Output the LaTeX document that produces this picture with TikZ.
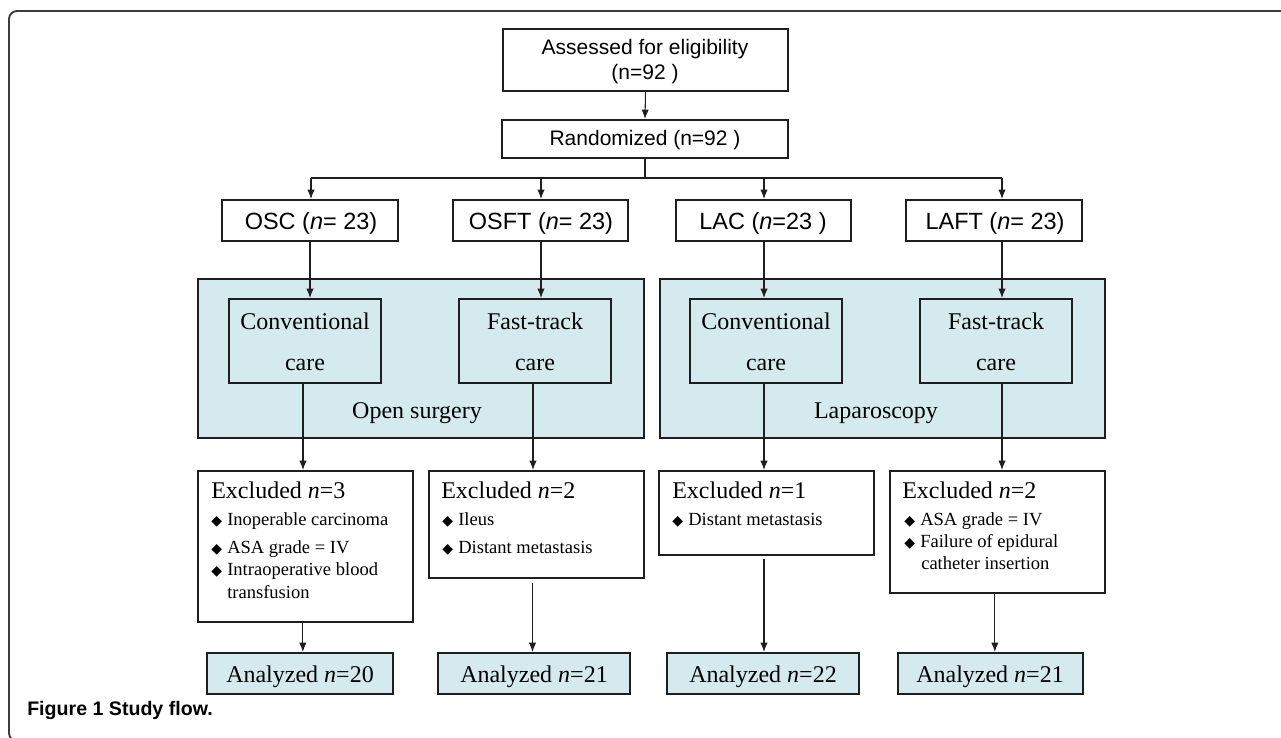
\documentclass[tikz,border=0pt]{standalone}
\usepackage{fontspec}
\setmainfont{Liberation Serif}
\setsansfont{Liberation Sans}
\newfontfamily\symf{DejaVu Sans}
\usetikzlibrary{arrows.meta,fit}
\definecolor{boxblue}{RGB}{212,234,238}
\definecolor{lineg}{RGB}{30,30,30}
\definecolor{frameg}{RGB}{60,60,60}
\newcommand{\dia}{\makebox[12pt][l]{\symf\fontsize{10.5}{10}\selectfont ◆}}
\begin{document}
\begin{tikzpicture}[x=0.75pt,y=-0.75pt,
  bx/.style={draw=lineg, line width=1.5pt, inner sep=0pt},
  fbx/.style={bx, fill=boxblue},
  arr/.style={draw=lineg, line width=0.8pt, -{Latex[length=7pt,width=5.5pt]}},
  ln/.style={draw=lineg, line width=0.8pt},
  txt/.style={inner sep=0pt, anchor=base},
  txtl/.style={inner sep=0pt, anchor=base west},
  sansA/.style={font=\sffamily\fontsize{15.75}{19}\selectfont},
  sansB/.style={font=\sffamily\fontsize{17.6}{21}\selectfont},
  ser/.style={font=\fontsize{18}{21}\selectfont},
  itm/.style={font=\fontsize{13.9}{16}\selectfont},
  capt/.style={font=\sffamily\bfseries\fontsize{14.7}{17}\selectfont}]
\useasboundingbox (0,0) rectangle (1281,738);
\clip (0,0) rectangle (1281,738);
% outer frame
\draw[frameg, line width=1.4pt, rounded corners=6pt] (1290,11) -- (9,11) -- (9,741) -- (40,741);

% boxes
\node[bx, fit={(503,29) (788,91)}] (assess) {};
\node[bx, fit={(502,120) (788,158)}] (rand) {};
\node[bx, fit={(222,200) (398,241)}] (osc) {};
\node[bx, fit={(453,200) (628,241)}] (osft) {};
\node[bx, fit={(676,200) (851,241)}] (lac) {};
\node[bx, fit={(906,200) (1082,241)}] (laft) {};
\node[fbx, fit={(198,279) (644,438)}] (grpO) {};
\node[fbx, fit={(660,279) (1105,438)}] (grpL) {};
\node[bx, fit={(229,299) (381,383)}] (conv1) {};
\node[bx, fit={(459,299) (611,383)}] (fast1) {};
\node[bx, fit={(690,299) (842,383)}] (conv2) {};
\node[bx, fit={(920,299) (1072,383)}] (fast2) {};
\node[bx, fit={(198,471) (413,622)}] (exc1) {};
\node[bx, fit={(429,471) (644,578)}] (exc2) {};
\node[bx, fit={(659,471) (874,555)}] (exc3) {};
\node[bx, fit={(890,471) (1105,593)}] (exc4) {};
\node[fbx, fit={(207,653) (393,694)}] (an1) {};
\node[fbx, fit={(438,653) (630,694)}] (an2) {};
\node[fbx, fit={(667,653) (859,694)}] (an3) {};
\node[fbx, fit={(898,653) (1083,694)}] (an4) {};

% texts top
\node[txt, sansA] (tA1) at (645,55) {Assessed for eligibility};
\node[txt, sansA] (tA2) at (645,80) {(n=92 )};
\node[txt, sansA] (tR) at (645,146) {Randomized (n=92 )};
\node[txt, sansB] (t1) at (311,229) {OSC (\textit{n}= 23)};
\node[txt, sansB] (t2) at (541,229) {OSFT (\textit{n}= 23)};
\node[txt, sansB] (t3) at (763,229) {LAC (\textit{n}=23 )};
\node[txt, sansB] (t4) at (995,229) {LAFT (\textit{n}= 23)};

% care boxes
\node[txt, ser] (c1a) at (305,329) {Conventional};
\node[txt, ser] (c1b) at (305,370) {care};
\node[txt, ser] (f1a) at (535,329) {Fast-track};
\node[txt, ser] (f1b) at (535,370) {care};
\node[txt, ser] (c2a) at (766,329) {Conventional};
\node[txt, ser] (c2b) at (766,370) {care};
\node[txt, ser] (f2a) at (996,329) {Fast-track};
\node[txt, ser] (f2b) at (996,370) {care};
\node[txt, ser] (gO) at (417,418) {Open surgery};
\node[txt, ser] (gL) at (876,418) {Laparoscopy};

% excluded
\node[txtl, ser] (e1) at (211,498) {Excluded \textit{n}=3};
\node[txtl, itm] (e1a) at (211,525) {\dia Inoperable carcinoma};
\node[txtl, itm] (e1b) at (211,553) {\dia ASA grade = IV};
\node[txtl, itm] (e1c) at (211,575) {\dia Intraoperative blood};
\node[txtl, itm] (e1d) at (227,598) {transfusion};
\node[txtl, ser] (e2) at (441,498) {Excluded \textit{n}=2};
\node[txtl, itm] (e2a) at (442,525) {\dia Ileus};
\node[txtl, itm] (e2b) at (442,553) {\dia Distant metastasis};
\node[txtl, ser] (e3) at (672,498) {Excluded \textit{n}=1};
\node[txtl, itm] (e3a) at (672,525) {\dia Distant metastasis};
\node[txtl, ser] (e4) at (902,498) {Excluded \textit{n}=2};
\node[txtl, itm] (e4a) at (904,525) {\dia ASA grade = IV};
\node[txtl, itm] (e4b) at (904,547) {\dia Failure of epidural};
\node[txtl, itm] (e4c) at (921,569) {catheter insertion};

% analyzed
\node[txt, ser] (a1) at (300,682) {Analyzed \textit{n}=20};
\node[txt, ser] (a2) at (534,682) {Analyzed \textit{n}=21};
\node[txt, ser] (a3) at (763,682) {Analyzed \textit{n}=22};
\node[txt, ser] (a4) at (990,682) {Analyzed \textit{n}=21};

% caption
\node[txtl, capt] (cap) at (27,715) {Figure 1 Study flow.};

% connectors
\coordinate (b1) at (311,178);
\coordinate (b2) at (541,178);
\coordinate (b3) at (764,178);
\coordinate (b4) at (1002,178);
\draw[arr] (assess.south) -- (rand.north);
\draw[ln] (rand.south) -- (rand.south |- b1);
\draw[ln] (b1) -- (b4);
\draw[arr] (b1) -- (b1 |- osc.north);
\draw[arr] (b2) -- (b2 |- osft.north);
\draw[arr] (b3) -- (b3 |- lac.north);
\draw[arr] (b4) -- (b4 |- laft.north);
\draw[arr] (osc.south) -- (osc.south |- conv1.north);
\draw[arr] (b2 |- osft.south) -- (b2 |- fast1.north);
\draw[arr] (b3 |- lac.south) -- (b3 |- conv2.north);
\draw[arr] (b4 |- laft.south) -- (b4 |- fast2.north);
\draw[arr] ([xshift=-1.5pt]conv1.south) -- ([xshift=-1.5pt]conv1.south |- exc1.north);
\draw[arr] ([xshift=-1.5pt]fast1.south) -- ([xshift=-1.5pt]fast1.south |- exc2.north);
\draw[arr] (b3 |- conv2.south) -- (b3 |- exc3.north);
\draw[arr] (b4 |- fast2.south) -- (b4 |- exc4.north);
\draw[arr] ([xshift=-2pt]exc1.south) -- ([xshift=-2pt]exc1.south |- an1.north);
\draw[arr] ([xshift=-3pt,yshift=-3pt]exc2.south) -- ([xshift=-3pt]exc2.south |- an2.north);
\draw[arr] ([yshift=-2pt]b3 |- exc3.south) -- (b3 |- an3.north);
\draw[arr] ([xshift=-2pt]exc4.south) -- ([xshift=-2pt]exc4.south |- an4.north);
\end{tikzpicture}
\end{document}
